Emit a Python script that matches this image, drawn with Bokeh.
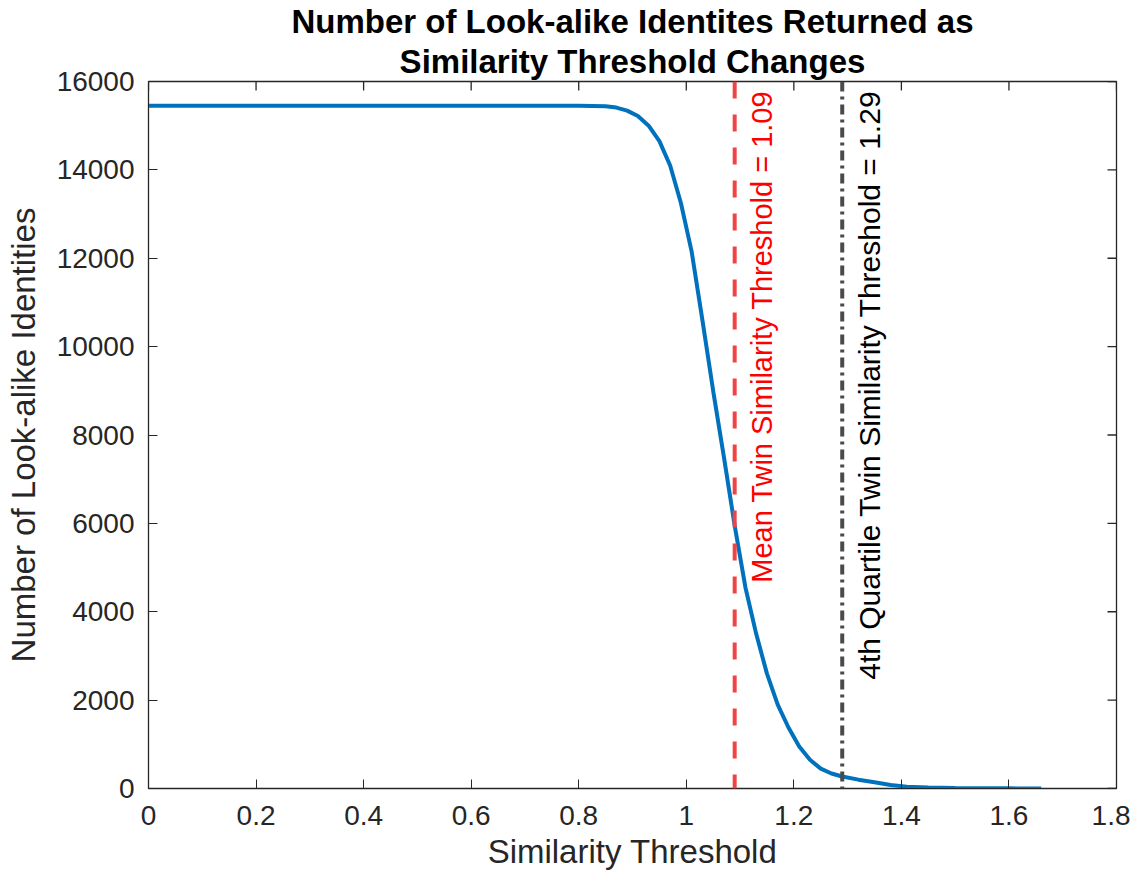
import math
from bokeh.plotting import figure
from bokeh.models import Span, FixedTicker, Title
from bokeh.core.properties import value
from bokeh.embed import file_html
from bokeh.resources import INLINE

# ---- data ----
threshold = [0.0, 0.5, 0.8, 0.85, 0.87, 0.89, 0.91, 0.93, 0.95, 0.97, 0.99,
             1.01, 1.03, 1.05, 1.07, 1.09, 1.11, 1.13, 1.15, 1.17, 1.19,
             1.21, 1.23, 1.25, 1.27, 1.29, 1.32, 1.35, 1.38, 1.41, 1.45,
             1.50, 1.55, 1.60, 1.66]
identities = [15450, 15450, 15450, 15440, 15410, 15340, 15220, 15000, 14650,
              14100, 13250, 12150, 10600, 9000, 7500, 5950, 4550, 3500, 2600,
              1900, 1380, 950, 650, 450, 340, 272, 200, 140, 80, 40, 20, 10,
              5, 3, 1]
mean_twin = 1.09
q4_twin = 1.29
x_ticks = [0, 0.2, 0.4, 0.6, 0.8, 1.0, 1.2, 1.4, 1.6, 1.8]
y_ticks = [0, 2000, 4000, 6000, 8000, 10000, 12000, 14000, 16000]
title_lines = ["Number of Look-alike Identites Returned as",
               "Similarity Threshold Changes"]
x_min, x_max = 0, 1.8
y_min, y_max = 0, 16000

FONT = "Liberation Sans"
AX = "#262626"

p = figure(frame_width=968, frame_height=707, title=None,
           x_range=(x_min, x_max), y_range=(y_min, y_max),
           output_backend="svg", toolbar_location=None,
           min_border_left=148, min_border_top=81, min_border_right=14,
           min_border_bottom=0)

# two centered title lines (inner line added first)
p.add_layout(Title(text=title_lines[1], align="center", text_font=FONT,
                   text_font_size="33px", text_font_style="bold",
                   text_color="black", standoff=3), "above")
p.add_layout(Title(text=title_lines[0], align="center", text_font=FONT,
                   text_font_size="33px", text_font_style="bold",
                   text_color="black", standoff=0), "above")

p.grid.visible = False
p.outline_line_color = AX
p.outline_line_width = 1.3
p.background_fill_color = "white"
p.border_fill_color = "white"

for ax in (p.xaxis[0], p.yaxis[0]):
    ax.major_tick_in = 9
    ax.major_tick_out = 0
    ax.minor_tick_line_color = None
    ax.axis_line_color = AX
    ax.major_tick_line_color = AX
    ax.major_label_text_font = FONT
    ax.major_label_text_font_size = "28px"
    ax.major_label_text_color = AX
    ax.axis_label_text_font = FONT
    ax.axis_label_text_font_size = "33px"
    ax.axis_label_text_font_style = "normal"
    ax.axis_label_text_color = AX

p.xaxis[0].ticker = FixedTicker(ticks=x_ticks)
p.yaxis[0].ticker = FixedTicker(ticks=y_ticks)
p.xaxis[0].axis_label = "Similarity Threshold"
p.yaxis[0].axis_label = "Number of Look-alike Identities"
p.xaxis[0].major_label_standoff = 17
p.yaxis[0].major_label_standoff = 14
p.xaxis[0].axis_label_standoff = 5
p.yaxis[0].axis_label_standoff = 12

# mirrored inward ticks on top and right edges of the box
p.ray(x=x_ticks, y=[y_max] * len(x_ticks), length=9, length_units="screen",
      angle=-math.pi / 2, line_color=AX, line_width=1.3)
p.ray(x=[x_max] * len(y_ticks), y=y_ticks, length=9, length_units="screen",
      angle=math.pi, line_color=AX, line_width=1.3)

p.line(threshold, identities, line_color="#0072BD", line_width=4)

p.add_layout(Span(location=mean_twin, dimension="height", line_color="#f04444",
                  line_width=4, line_dash="17 16"))
p.add_layout(Span(location=q4_twin, dimension="height", line_color="#4a4a4a",
                  line_width=4, line_dash="10 5 3 5"))

p.text(x=[1.14], y=[15800], text=["Mean Twin Similarity Threshold = %.2f" % mean_twin],
       angle=math.pi / 2, text_align="right", text_baseline="middle",
       text_font=value(FONT), text_font_size="29px", text_color="#ff0000")
p.text(x=[1.341], y=[15800], text=["4th Quartile Twin Similarity Threshold = %.2f" % q4_twin],
       angle=math.pi / 2, text_align="right", text_baseline="middle",
       text_font=value(FONT), text_font_size="30px", text_color="black")

open("out.html", "w").write(file_html(p, INLINE))
